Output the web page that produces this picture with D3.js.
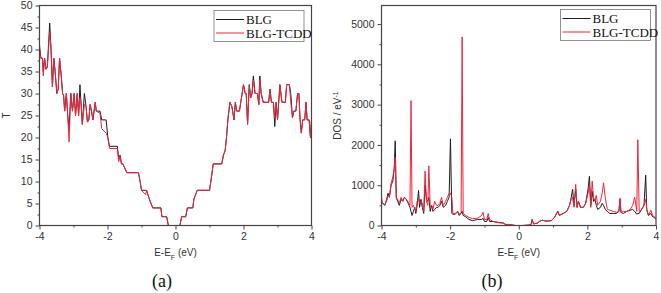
<!DOCTYPE html>
<html>
<head>
<meta charset="utf-8">
<script src="https://cdn.jsdelivr.net/npm/d3@7"></script>
<style>
  body { margin: 0; background: #fff; }
  svg { display: block; }
</style>
</head>
<body>
<div id="chart"></div>
<script>
// panel (a): transmission
const tE = [
  -4.00, -3.96, -3.91, -3.89, -3.85, -3.81, -3.77, -3.70, -3.66, -3.62, -3.58, -3.54, -3.49, -3.45,
  -3.41, -3.36, -3.32, -3.29, -3.26, -3.21, -3.17, -3.13, -3.08, -3.03, -2.98, -2.94, -2.89, -2.85,
  -2.81, -2.78, -2.74, -2.68, -2.63, -2.59, -2.55, -2.51, -2.47, -2.43, -2.36, -2.33, -2.22, -2.17,
  -2.04, -1.99, -1.94, -1.71, -1.67, -1.63, -1.59, -1.55, -1.43, -1.09, -1.04, -1.00, -0.88, -0.85,
  -0.77, -0.67, -0.43, -0.40, -0.26, -0.21, 0.13, 0.18, 0.30, 0.35, 0.51, 0.54, 0.64, 1.00, 1.04,
  1.11, 1.36, 1.41, 1.46, 1.50, 1.54, 1.60, 1.66, 1.72, 1.76, 1.80, 1.88, 1.92, 2.00, 2.05, 2.08,
  2.12, 2.17, 2.21, 2.25, 2.29, 2.34, 2.41, 2.45, 2.48, 2.52, 2.58, 2.74, 2.78, 2.82, 2.88, 2.92,
  2.96, 3.00, 3.07, 3.13, 3.23, 3.27, 3.35, 3.39, 3.44, 3.48, 3.54, 3.59, 3.63, 3.66, 3.70, 3.74,
  3.80, 3.84, 3.87, 3.93, 3.97, 4.00
];
const tBLG = [
  41, 38, 38, 35, 38, 35.5, 36, 46, 40, 31.5, 38, 35, 30, 31,
  38, 34, 30, 29.5, 26, 30, 25, 22, 30, 26, 30, 25, 30, 25,
  32, 28, 23, 30, 27, 23.5, 24, 27.5, 26, 24, 28, 26, 26, 24,
  24, 20, 18, 18, 15, 16, 14, 14, 12, 12, 10, 8, 8, 8,
  6, 4, 4, 2, 2, 0, 0, 2, 2, 4, 4, 6, 8, 8, 10,
  14, 14, 16, 17, 20, 24, 28, 27, 24, 28, 26, 26, 28, 32, 30, 30,
  23, 32, 29, 30, 34, 30, 30, 27.5, 34, 30, 28, 28, 31, 28, 28, 22.5,
  28, 24, 32, 28, 28, 32, 32, 30, 24.5, 26, 26, 30, 30, 24.5, 21, 24,
  24, 28, 24, 24, 20, 24
];
const tTCDD = [
  40, 38, 38, 34, 38, 35.5, 36, 44, 40, 31.5, 38, 35, 30, 31,
  38, 34, 30, 29.5, 26, 30, 25, 19, 30, 26, 30, 25, 30, 25,
  29, 28, 23, 27.5, 27, 23.5, 24, 27.5, 26, 24, 28, 26, 25.5, 22,
  21, 20, 17.5, 17.5, 14.5, 16, 14, 14, 12, 12, 10, 8, 7, 8,
  6, 4, 4, 2, 2, 0, 0, 2, 2, 4, 4, 6, 8, 8, 10,
  14, 14, 16, 17, 20, 24, 28, 27, 24, 28, 26, 26, 28, 32, 30, 30,
  23, 32, 29, 30, 33, 30, 30, 27.5, 33, 30, 28, 28, 31, 28, 28, 24.5,
  28, 24, 32, 28, 28, 32, 32, 28, 24.5, 26, 26, 30, 30, 24.5, 21, 24,
  24, 28, 24, 24, 20, 24
];
const tTicks = [0, 5, 10, 15, 20, 25, 30, 35, 40, 45, 50];

// panel (b): density of states
const dE = [
  -4.00, -3.97, -3.90, -3.85, -3.81, -3.77, -3.72, -3.67, -3.63, -3.60, -3.57, -3.53, -3.48, -3.43,
  -3.38, -3.33, -3.28, -3.22, -3.17, -3.14, -3.11, -3.07, -3.03, -3.00, -2.96, -2.92, -2.89, -2.85,
  -2.81, -2.77, -2.73, -2.69, -2.65, -2.62, -2.58, -2.54, -2.50, -2.45, -2.40, -2.35, -2.30, -2.25,
  -2.20, -2.13, -2.08, -2.03, -1.99, -1.95, -1.92, -1.85, -1.78, -1.74, -1.68, -1.65, -1.62, -1.55,
  -1.45, -1.35, -1.20, -1.08, -1.04, -1.00, -0.93, -0.89, -0.85, -0.75, -0.60, -0.45, -0.38, -0.25,
  -0.10, 0.10, 0.30, 0.36, 0.39, 0.43, 0.55, 0.60, 0.68, 0.80, 0.95, 1.04, 1.10, 1.14, 1.18, 1.30,
  1.40, 1.48, 1.53, 1.57, 1.61, 1.66, 1.70, 1.74, 1.80, 1.88, 1.95, 2.02, 2.06, 2.10, 2.14, 2.18,
  2.22, 2.26, 2.30, 2.38, 2.43, 2.47, 2.52, 2.58, 2.65, 2.75, 2.85, 2.92, 2.95, 2.98, 3.05, 3.15,
  3.25, 3.32, 3.38, 3.44, 3.47, 3.51, 3.58, 3.65, 3.70, 3.73, 3.78, 3.85, 3.90, 3.95, 4.00
];
const dosBLG = [
  550, 550, 500, 650, 800, 700, 1000, 1100, 1400, 2100, 700, 600, 500, 650,
  600, 700, 650, 550, 450, 350, 250, 350, 450, 300, 500, 870, 450, 650,
  450, 300, 1000, 650, 600, 700, 350, 500, 350, 400, 450, 450, 500, 600,
  450, 500, 600, 700, 2150, 300, 280, 280, 350, 250, 300, 350, 250, 220,
  150, 120, 150, 150, 180, 100, 100, 200, 100, 100, 80, 60, 20, 20,
  0, 0, 10, 30, 150, 40, 60, 100, 130, 110, 120, 200, 300, 350, 250, 300,
  350, 500, 700, 900, 500, 900, 450, 600, 450, 450, 550, 900, 1220, 500, 850, 600,
  650, 500, 400, 450, 550, 500, 400, 350, 300, 300, 300, 350, 650, 320, 300, 350,
  380, 400, 350, 280, 300, 300, 400, 500, 1250, 400, 250, 300, 220, 200, 150
];
const dosTCDD = [
  700, 550, 520, 600, 750, 700, 1050, 1200, 1400, 1700, 700, 650, 550, 700,
  620, 700, 650, 580, 500, 3100, 450, 500, 400, 350, 600, 650, 550, 600,
  550, 350, 1350, 600, 500, 1480, 450, 500, 400, 600, 500, 500, 550, 700,
  500, 600, 700, 800, 800, 700, 300, 300, 350, 280, 300, 4680, 300, 250,
  200, 170, 180, 250, 330, 150, 150, 300, 150, 100, 70, 60, 30, 20,
  0, 0, 10, 20, 150, 40, 60, 100, 130, 110, 120, 200, 280, 360, 250, 300,
  350, 500, 650, 700, 450, 1020, 450, 600, 450, 450, 550, 800, 1000, 450, 1100, 700,
  600, 750, 500, 600, 800, 1060, 700, 400, 380, 350, 330, 350, 680, 320, 350, 350,
  400, 500, 700, 350, 2130, 350, 400, 500, 650, 400, 250, 380, 250, 220, 180
];
const dosTicks = [0, 1000, 2000, 3000, 4000, 5000];

const xTicks = [-4, -2, 0, 2, 4];
const xMinor = [-3, -1, 1, 3];
const seriesNames = ['BLG', 'BLG-TCDD'];
const seriesColors = ['#1c1c1c', '#f0253c'];

const width = 661;
const height = 293;

const svg = d3.select('#chart')
  .append('svg')
  .attr('width', width)
  .attr('height', height);

function drawPanel(p) {
  const x = d3.scaleLinear().domain([-4, 4]).range([p.left, p.right]);
  const y = d3.scaleLinear().domain([0, p.yMax]).range([p.bottom, p.top]);
  const g = svg.append('g');

  g.append('clipPath').attr('id', p.id + '-clip')
    .append('rect')
    .attr('x', p.left).attr('y', p.top)
    .attr('width', p.right - p.left).attr('height', p.bottom - p.top);

  const line = d3.line().x(d => x(d[0])).y(d => y(d[1]));

  // black first, red drawn on top
  p.series.forEach((s, i) => {
    g.append('path')
      .datum(p.xs.map((e, j) => [e, s[j]]))
      .attr('clip-path', `url(#${p.id}-clip)`)
      .attr('fill', 'none')
      .attr('stroke', seriesColors[i])
      .attr('stroke-width', 1)
      .attr('stroke-linejoin', 'round')
      .attr('d', line);
  });

  // frame
  g.append('rect')
    .attr('x', p.left).attr('y', p.top)
    .attr('width', p.right - p.left).attr('height', p.bottom - p.top)
    .attr('fill', 'none')
    .attr('stroke', '#444')
    .attr('stroke-width', 1.2);

  g.append('g')
    .attr('transform', `translate(0,${p.bottom})`)
    .call(d3.axisBottom(x).tickValues(xTicks).tickSize(4).tickSizeOuter(0).tickPadding(3).tickFormat(d => String(d)));
  g.append('g')
    .attr('transform', `translate(0,${p.bottom})`)
    .call(d3.axisBottom(x).tickValues(xMinor).tickSize(2).tickSizeOuter(0).tickFormat(''));

  g.append('g')
    .attr('transform', `translate(${p.left},0)`)
    .call(d3.axisLeft(y).tickValues(p.yTicks).tickSize(4).tickSizeOuter(0).tickPadding(3).tickFormat(d => String(d)));
  g.append('g')
    .attr('transform', `translate(${p.left},0)`)
    .call(d3.axisLeft(y).tickValues(p.yTicks.slice(0, -1).map(v => v + p.yStep / 2).filter(v => v < p.yMax)).tickSize(2).tickSizeOuter(0).tickFormat(''));

  g.selectAll('.domain').remove();
  g.selectAll('.tick line').attr('stroke', '#444');
  g.selectAll('.tick text')
    .attr('fill', '#333')
    .style('font-family', '"Liberation Sans", Arial, sans-serif')
    .style('font-size', '10.5px');

  // x title
  const xt = g.append('text')
    .attr('x', (p.left + p.right) / 2)
    .attr('y', 256)
    .attr('text-anchor', 'middle')
    .attr('fill', '#333')
    .style('font-family', '"Liberation Sans", Arial, sans-serif')
    .style('font-size', '10px');
  xt.append('tspan').text('E-E');
  xt.append('tspan').attr('baseline-shift', 'sub').style('font-size', '7px').text('F');
  xt.append('tspan').text(' (eV)');

  // y title
  const yt = g.append('text')
    .attr('transform', `translate(${p.yTitleX},${(p.top + p.bottom) / 2}) rotate(-90)`)
    .attr('text-anchor', 'middle')
    .attr('fill', '#333')
    .style('font-family', '"Liberation Sans", Arial, sans-serif')
    .style('font-size', '10px');
  yt.append('tspan').text(p.yTitle);
  if (p.yTitleSup) {
    yt.append('tspan').attr('baseline-shift', 'super').style('font-size', '7px').text(p.yTitleSup);
  }

  // panel letter
  g.append('text')
    .attr('x', p.letterX)
    .attr('y', 287)
    .attr('text-anchor', 'middle')
    .attr('fill', '#111')
    .style('font-family', '"Liberation Serif", "Times New Roman", serif')
    .style('font-size', '18px')
    .text(p.letter);

  // legend
  const lg = g.append('g').attr('transform', `translate(${p.legX},${p.legY})`);
  lg.append('rect')
    .attr('width', 90).attr('height', 31)
    .attr('fill', '#fff')
    .attr('stroke', '#777')
    .attr('stroke-width', 0.8);
  seriesNames.forEach((name, i) => {
    const yy = 9 + i * 13.5;
    lg.append('line')
      .attr('x1', 2).attr('x2', 30)
      .attr('y1', yy).attr('y2', yy)
      .attr('stroke', seriesColors[i])
      .attr('stroke-width', 1);
    lg.append('text')
      .attr('x', 32).attr('y', yy + 4.5)
      .attr('fill', '#111')
      .style('font-family', '"Liberation Serif", "Times New Roman", serif')
      .style('font-size', '13px')
      .text(name);
  });
}

drawPanel({
  id: 'a', left: 39.5, right: 311.5, top: 5.5, bottom: 225.5,
  yMax: 50, yTicks: tTicks, yStep: 5,
  xs: tE, series: [tBLG, tTCDD],
  yTitle: 'T', yTitleX: 10,
  letter: '(a)', letterX: 162,
  legX: 214, legY: 10.5
});

drawPanel({
  id: 'b', left: 381.5, right: 656, top: 5.5, bottom: 225.5,
  yMax: 5460, yTicks: dosTicks, yStep: 1000,
  xs: dE, series: [dosBLG, dosTCDD],
  yTitle: 'DOS / eV', yTitleSup: '-1', yTitleX: 341,
  letter: '(b)', letterX: 492,
  legX: 560.5, legY: 9.5
});
</script>
</body>
</html>
